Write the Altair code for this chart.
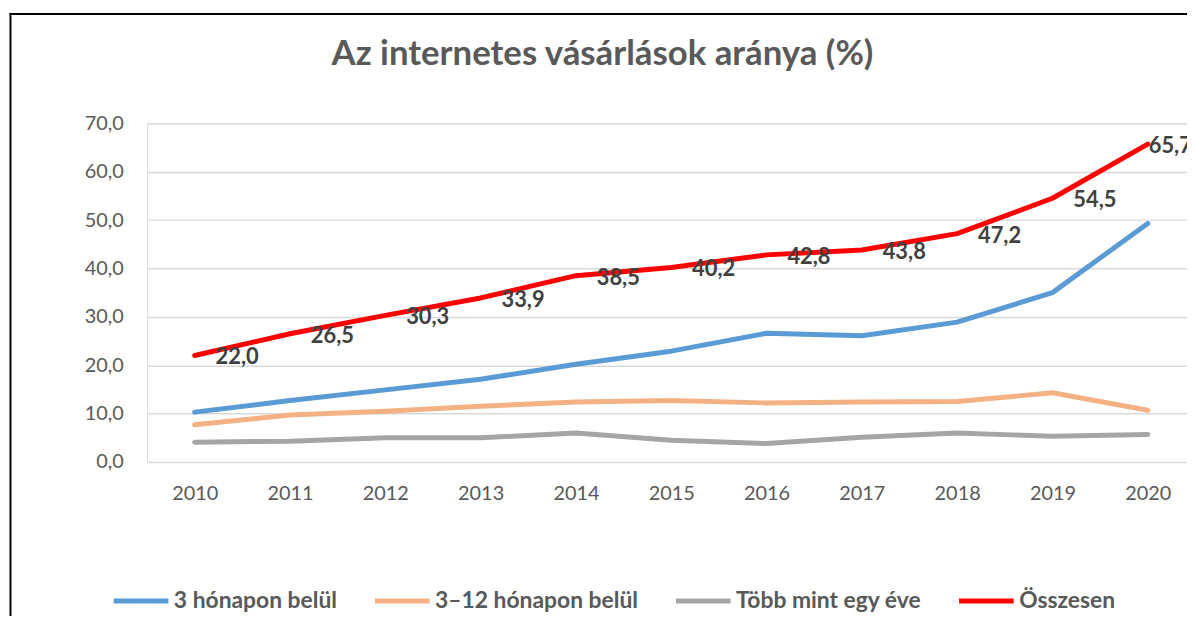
import altair as alt
import pandas as pd

years = [2010, 2011, 2012, 2013, 2014, 2015, 2016, 2017, 2018, 2019, 2020]
series_names = ["3 hónapon belül", "3–12 hónapon belül", "Több mint egy éve", "Összesen"]
within_3m = [10.3, 12.7, 14.9, 17.1, 20.2, 22.9, 26.6, 26.1, 28.9, 35.0, 49.3]
within_3_12m = [7.7, 9.7, 10.5, 11.5, 12.4, 12.7, 12.2, 12.4, 12.5, 14.3, 10.7]
over_1y = [4.1, 4.3, 5.0, 5.0, 6.0, 4.5, 3.8, 5.1, 6.0, 5.3, 5.7]
total = [22.0, 26.5, 30.3, 33.9, 38.5, 40.2, 42.8, 43.8, 47.2, 54.5, 65.7]
y_ticks = [0, 10, 20, 30, 40, 50, 60, 70]
colors = ["#5B9BD5", "#F4B183", "#A5A5A5", "#FF0000"]

rows = []
for name, vals in zip(series_names, [within_3m, within_3_12m, over_1y, total]):
    for yr, v in zip(years, vals):
        rows.append({"year": yr, "value": v, "series": name, "order": series_names.index(name)})
df = pd.DataFrame(rows)
tot_df = pd.DataFrame({"year": years, "value": total})
tot_df["label"] = [f"{v:.1f}".replace(".", ",") for v in total]

FONT = "Lato"
xscale = alt.Scale(domain=[2009.5, 2020.412], nice=False, zero=False)
yscale = alt.Scale(domain=[0, 70], nice=False)

lines = alt.Chart(df).mark_line(strokeWidth=5, strokeCap="round", strokeJoin="round").encode(
    x=alt.X("year:Q", scale=xscale, title=None,
            axis=alt.Axis(values=years, format="d", ticks=False, domain=False, grid=False,
                          labelFont=FONT, labelFontSize=20, labelColor="#595959", labelPadding=22)),
    y=alt.Y("value:Q", scale=yscale, title=None,
            axis=alt.Axis(values=y_ticks, ticks=False, domain=False, grid=True,
                          gridColor="#D9D9D9", gridWidth=1.5,
                          labelExpr="replace(format(datum.value, '.1f'), '.', ',')",
                          labelFont=FONT, labelFontSize=20, labelColor="#595959", labelPadding=24)),
    color=alt.Color("series:N", scale=alt.Scale(domain=series_names, range=colors), sort=series_names,
                    legend=alt.Legend(title=None, orient="none", legendX=-36, legendY=451,
                                      direction="horizontal", symbolType="stroke", symbolSize=3025,
                                      symbolStrokeWidth=5, labelFont=FONT, labelFontSize=23,
                                      labelFontWeight="bold", labelColor="#595959", labelOffset=3,
                                      labelLimit=400, columnPadding=27, padding=0)),
    order="order:Q",
)

labels_main = alt.Chart(tot_df).transform_filter("datum.year < 2020").mark_text(
    align="left", baseline="middle", dx=21, dy=2, font=FONT, fontSize=22, fontWeight="bold", color="#404040"
).encode(x=alt.X("year:Q", scale=xscale), y=alt.Y("value:Q", scale=yscale), text="label:N")

labels_last = alt.Chart(tot_df).transform_filter("datum.year == 2020").mark_text(
    align="left", baseline="middle", dx=1, dy=2, font=FONT, fontSize=22, fontWeight="bold", color="#404040"
).encode(x=alt.X("year:Q", scale=xscale), y=alt.Y("value:Q", scale=yscale), text="label:N")

frame_df = pd.DataFrame({"k": [0]})
frame_left = alt.Chart(frame_df).mark_rule(color="#000000", strokeWidth=2).encode(
    x=alt.value(-137.5), y=alt.value(-111), y2=alt.value(520))
frame_top = alt.Chart(frame_df).mark_rule(color="#000000", strokeWidth=2).encode(
    x=alt.value(-138.5), x2=alt.value(1100), y=alt.value(-110))

chart = alt.layer(lines, labels_main, labels_last, frame_left, frame_top).properties(
    width=1047, height=341,
    title=alt.TitleParams("Az internetes vásárlások aránya (%)", font=FONT, fontSize=35,
                          fontWeight="bold", color="#595959", anchor="middle", dx=-65,
                          baseline="alphabetic", offset=-88),
    autosize=alt.AutoSizeParams(type="none"),
    padding={"left": 140, "top": 114, "right": 0, "bottom": 153},
).configure_view(stroke=None).configure(background="white")

chart.save("out.html", embed_options={"renderer": "svg", "actions": False})
